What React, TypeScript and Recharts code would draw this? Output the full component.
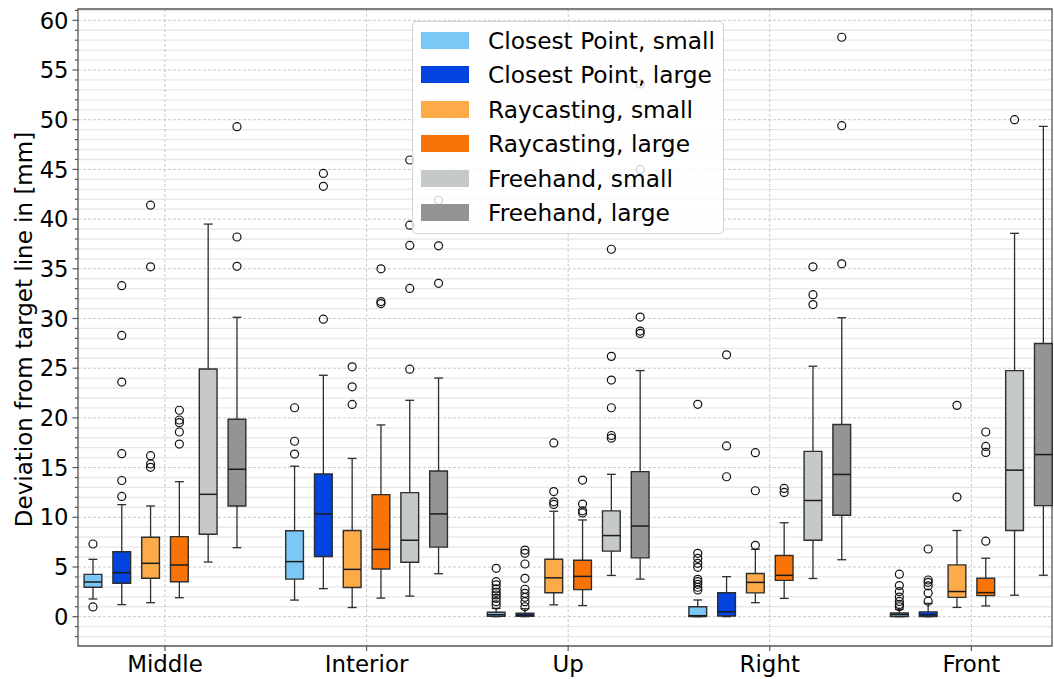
import React from "react";
import {
  ComposedChart,
  XAxis,
  YAxis,
  CartesianGrid,
  ReferenceArea,
  ReferenceLine,
  Scatter,
} from "recharts";

const FONT = "'DejaVu Sans', sans-serif";

const categories = ["Middle", "Interior", "Up", "Right", "Front"];
const seriesNames = [
  "Closest Point, small",
  "Closest Point, large",
  "Raycasting, small",
  "Raycasting, large",
  "Freehand, small",
  "Freehand, large",
];
const seriesColors = ["#7bc8f6", "#0343df", "#fdaa48", "#f97306", "#c5c9c7", "#929591"];

// per category: [lower whisker, q1, median, q3, upper whisker]
const closestSmall = [
  [1.78, 2.96, 3.49, 4.26, 5.77],
  [1.67, 3.78, 5.54, 8.64, 15.14],
  [0, 0.05, 0.2, 0.45, 0.84],
  [0, 0.02, 0.1, 1.0, 1.68],
  [0, 0.02, 0.22, 0.37, 0.74],
];
const closestLarge = [
  [1.21, 3.36, 4.43, 6.54, 11.27],
  [2.82, 6.05, 10.34, 14.35, 24.29],
  [0, 0.05, 0.15, 0.35, 0.8],
  [0, 0.07, 0.5, 2.41, 4.03],
  [0, 0.02, 0.2, 0.48, 1.34],
];
const raySmall = [
  [1.41, 3.86, 5.37, 7.99, 11.14],
  [0.92, 2.93, 4.76, 8.67, 15.92],
  [1.19, 2.41, 3.91, 5.78, 10.61],
  [1.41, 2.39, 3.45, 4.35, 6.78],
  [0.93, 1.94, 2.53, 5.21, 8.67],
];
const rayLarge = [
  [1.91, 3.52, 5.2, 8.05, 13.58],
  [1.87, 4.8, 6.77, 12.28, 19.29],
  [1.12, 2.72, 4.05, 5.68, 9.73],
  [1.84, 3.65, 4.16, 6.16, 9.45],
  [1.08, 2.12, 2.42, 3.87, 5.88],
];
const freeSmall = [
  [5.5, 8.29, 12.31, 24.92, 39.5],
  [2.07, 5.48, 7.69, 12.48, 21.77],
  [4.15, 6.6, 8.16, 10.65, 14.32],
  [3.84, 7.69, 11.69, 16.63, 25.2],
  [2.16, 8.67, 14.74, 24.76, 38.57],
];
const freeLarge = [
  [6.94, 11.14, 14.83, 19.86, 30.12],
  [4.32, 7.0, 10.34, 14.66, 24.01],
  [3.78, 5.92, 9.12, 14.59, 24.76],
  [5.73, 10.2, 14.31, 19.33, 30.08],
  [4.17, 11.17, 16.31, 27.48, 49.33],
];

// outliers per category
const closestSmallOut = [
  [0.98, 7.31],
  [16.36, 17.65, 21.02],
  [1.18, 1.51, 1.85, 2.18, 2.45, 2.79, 3.19, 3.52, 4.87],
  [2.69, 2.96, 3.26, 3.52, 3.76, 4.97, 5.37, 5.87, 6.37, 21.37],
  [1.0, 1.23, 1.53, 1.97, 2.53, 3.13, 4.28],
];
const closestLargeOut = [
  [12.1, 13.7, 16.4, 23.6, 28.3, 33.3],
  [29.93, 43.3, 44.6],
  [1.0, 1.51, 1.95, 2.35, 2.76, 3.86, 5.3, 6.37, 6.7],
  [14.08, 17.18, 26.35],
  [1.56, 2.38, 3.09, 3.46, 3.69, 6.81],
];
const raySmallOut = [
  [15.03, 15.36, 16.2, 35.2, 41.4],
  [21.36, 23.13, 25.14],
  [11.29, 11.56, 12.59, 17.48],
  [7.18, 12.67, 16.5],
  [12.03, 21.26],
];
const rayLargeOut = [
  [17.37, 18.58, 19.52, 19.79, 20.77],
  [31.5, 31.7, 35.0],
  [10.44, 10.65, 11.33, 13.74],
  [12.5, 12.9],
  [7.6, 16.53, 17.13, 18.58],
];
const freeSmallOut = [
  [],
  [24.9, 33.03, 37.35, 39.39, 45.95],
  [17.96, 18.23, 21.02, 23.81, 26.19, 36.97],
  [31.4, 32.4, 35.2],
  [50.0],
];
const freeLargeOut = [
  [35.25, 38.2, 49.3],
  [33.54, 37.31, 41.9],
  [28.5, 28.74, 30.14, 45.0, 53.6],
  [35.5, 49.4, 58.3],
  [],
];

const boxStats = [closestSmall, closestLarge, raySmall, rayLarge, freeSmall, freeLarge];
const outliers = [closestSmallOut, closestLargeOut, raySmallOut, rayLargeOut, freeSmallOut, freeLargeOut];

const yMajorTicks = [0, 5, 10, 15, 20, 25, 30, 35, 40, 45, 50, 55, 60];
const yAllTicks = Array.from({ length: 64 }, (_, i) => i - 2);
const yMinorTicks = yAllTicks.filter((v) => !yMajorTicks.includes(v));
const xTicks = categories.map((_, i) => i);

const X_DOMAIN: [number, number] = [-0.4314, 4.4];
const Y_DOMAIN: [number, number] = [-2.95, 61.14];
const STEP = 1 / 7;
const BOX_W = 0.088;
const CAP_W = BOX_W / 2;
const EDGE = "#2e2e2e";

const offsetOf = (s: number) => (s - 2.5) * STEP;

const boxes = boxStats.flatMap((stats, s) =>
  stats.map(([lo, q1, med, q3, hi], c) => {
    const cx = c + offsetOf(s);
    return { s, c, cx, lo, q1, med, q3, hi };
  })
);

function YTick({ x, y, payload }: any) {
  const v = payload.value;
  const major = yMajorTicks.includes(v);
  return (
    <g>
      <line x1={x - (major ? 5.5 : 3)} x2={x} y1={y} y2={y} stroke="#555" strokeWidth={1.2} />
      {major && (
        <text x={x - 9.5} y={y} dy="0.36em" textAnchor="end" fontSize={22.7} fontFamily={FONT} fill="#000">
          {v}
        </text>
      )}
    </g>
  );
}

function XTick({ x, y, payload }: any) {
  return (
    <text x={x} y={y + 21} textAnchor="middle" fontSize={22.9} fontFamily={FONT} fill="#000">
      {categories[payload.value]}
    </text>
  );
}

function OutlierDot({ cx, cy }: any) {
  return <circle cx={cx} cy={cy} r={4} fill="none" stroke="#111" strokeWidth={1.2} />;
}

function YLabel({ viewBox }: any) {
  const x = viewBox.x + 23.5;
  const y = viewBox.y + viewBox.height / 2 + 2;
  return (
    <text
      x={x}
      y={y}
      transform={`rotate(-90, ${x}, ${y})`}
      textAnchor="middle"
      dominantBaseline="central"
      fontSize={23}
      fontFamily={FONT}
      fill="#000"
    >
      Deviation from target line in [mm]
    </text>
  );
}

function LegendBox() {
  return (
    <div
      style={{
        position: "absolute",
        left: 412,
        top: 21,
        width: 310,
        height: 211,
        border: "1px solid #d4d4d4",
        borderRadius: 4,
        background: "rgba(255,255,255,0.8)",
        fontFamily: FONT,
        fontSize: 23.3,
        color: "#000",
      }}
    >
      {seriesNames.map((name, i) => (
        <div key={name} style={{ position: "absolute", left: 8, top: 9.7 + i * 34.5, height: 17, display: "flex", alignItems: "center" }}>
          <div style={{ width: 48, height: 17, background: seriesColors[i] }} />
          <span style={{ marginLeft: 19, lineHeight: "17px", whiteSpace: "nowrap" }}>{name}</span>
        </div>
      ))}
    </div>
  );
}

export default function App() {
  return (
    <div style={{ position: "absolute", left: 0, top: 0, width: 1054, height: 679, background: "#fff" }}>
      <ComposedChart width={1054} height={679} margin={{ top: 9, right: 2, bottom: 0, left: 0 }}>
        <CartesianGrid horizontalValues={yMinorTicks} vertical={false} stroke="#e8e8e8" strokeWidth={1.3} />
        <CartesianGrid
          horizontalValues={yMajorTicks}
          verticalValues={xTicks}
          stroke="#bdbdbd"
          strokeWidth={0.8}
          strokeDasharray="3 2"
        />
        <XAxis
          type="number"
          dataKey="x"
          domain={X_DOMAIN}
          allowDataOverflow
          ticks={xTicks}
          interval={0}
          height={33}
          tickSize={5}
          tickMargin={0}
          axisLine={false}
          tickLine={{ stroke: "#555", strokeWidth: 1.2 }}
          tick={<XTick />}
        />
        <YAxis
          type="number"
          dataKey="y"
          domain={Y_DOMAIN}
          allowDataOverflow
          ticks={yAllTicks}
          interval={0}
          width={78}
          tickSize={0}
          tickMargin={0}
          axisLine={false}
          tickLine={false}
          tick={<YTick />}
          label={<YLabel />}
        />
        <ReferenceArea
          x1={X_DOMAIN[0]}
          x2={X_DOMAIN[1]}
          y1={Y_DOMAIN[0]}
          y2={Y_DOMAIN[1]}
          fill="none"
          stroke="#555"
          strokeWidth={1.3}
          ifOverflow="visible"
        />
        {boxes.map((b) => (
          <ReferenceArea
            key={`box-${b.s}-${b.c}`}
            x1={b.cx - BOX_W / 2}
            x2={b.cx + BOX_W / 2}
            y1={b.q1}
            y2={b.q3}
            fill={seriesColors[b.s]}
            fillOpacity={1}
            stroke={EDGE}
            strokeWidth={1.4}
            ifOverflow="visible"
          />
        ))}
        {boxes.map((b) => (
          <ReferenceLine
            key={`wl-${b.s}-${b.c}`}
            segment={[{ x: b.cx, y: b.lo }, { x: b.cx, y: b.q1 }]}
            stroke={EDGE}
            strokeWidth={1.3}
            ifOverflow="visible"
          />
        ))}
        {boxes.map((b) => (
          <ReferenceLine
            key={`wh-${b.s}-${b.c}`}
            segment={[{ x: b.cx, y: b.q3 }, { x: b.cx, y: b.hi }]}
            stroke={EDGE}
            strokeWidth={1.3}
            ifOverflow="visible"
          />
        ))}
        {boxes.map((b) => (
          <ReferenceLine
            key={`cl-${b.s}-${b.c}`}
            segment={[{ x: b.cx - CAP_W / 2, y: b.lo }, { x: b.cx + CAP_W / 2, y: b.lo }]}
            stroke={EDGE}
            strokeWidth={1.3}
            ifOverflow="visible"
          />
        ))}
        {boxes.map((b) => (
          <ReferenceLine
            key={`ch-${b.s}-${b.c}`}
            segment={[{ x: b.cx - CAP_W / 2, y: b.hi }, { x: b.cx + CAP_W / 2, y: b.hi }]}
            stroke={EDGE}
            strokeWidth={1.3}
            ifOverflow="visible"
          />
        ))}
        {boxes.map((b) => (
          <ReferenceLine
            key={`md-${b.s}-${b.c}`}
            segment={[{ x: b.cx - BOX_W / 2, y: b.med }, { x: b.cx + BOX_W / 2, y: b.med }]}
            stroke="#1a1a1a"
            strokeWidth={1.5}
            ifOverflow="visible"
          />
        ))}
        {outliers.map((perCat, s) => (
          <Scatter
            key={`out-${s}`}
            name={seriesNames[s]}
            data={perCat.flatMap((vals, c) => vals.map((v) => ({ x: c + offsetOf(s), y: v })))}
            shape={<OutlierDot />}
            isAnimationActive={false}
          />
        ))}
      </ComposedChart>
      <LegendBox />
    </div>
  );
}
